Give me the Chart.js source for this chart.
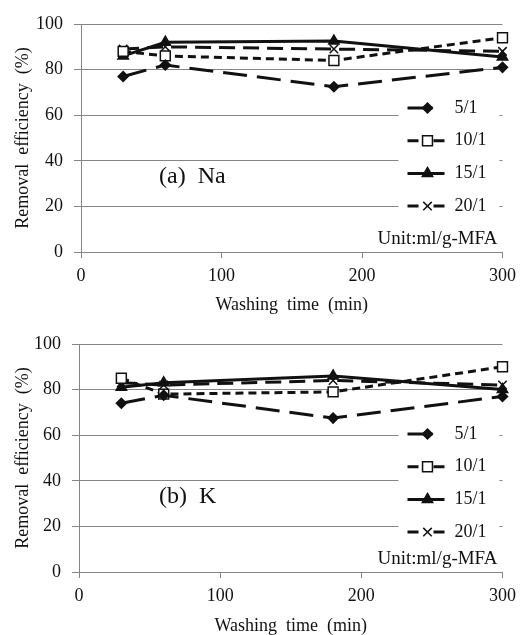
<!DOCTYPE html>
<html>
<head>
<meta charset="utf-8">
<script src="https://cdn.jsdelivr.net/npm/chart.js@4/dist/chart.umd.min.js"></script>
<style>
  body { margin: 0; background: #fff; }
  canvas { display: block; }
</style>
</head>
<body>
<canvas id="naChart" width="523" height="318"></canvas>
<canvas id="kChart" width="523" height="317"></canvas>
<script>
const washTimes = [30, 60, 180, 300];
const ratioLabels = ["5/1", "10/1", "15/1", "20/1"];
const xTicks = [0, 100, 200, 300];
const yTicks = [0, 20, 40, 60, 80, 100];

// Na removal efficiency (%)
const na51 = [77, 82, 72.5, 81];
const na101 = [88, 86, 84, 94];
const na151 = [86, 92, 92.5, 85.5];
const na201 = [89, 90, 89, 88];

// K removal efficiency (%)
const k51 = [74, 77.5, 67.5, 77];
const k101 = [85, 78, 79, 90];
const k151 = [81, 83, 86, 80];
const k201 = [83, 82, 84, 82];

const SERIF = "'Liberation Serif', 'Times New Roman', serif";
const GRID = "#858585";
const INK = "#111";

// line dash in the plot, and the short sample drawn in the legend
const seriesStyle = [
  { pointStyle: "rectRot", radius: 5, fill: INK, dash: [24, 10], key: [], keyEnd: -12 },
  { pointStyle: "rect", radius: 7, fill: "#fff", dash: [8, 5], key: [11, 15, 11], keyEnd: 0 },
  { pointStyle: "triangle", radius: 6, fill: INK, dash: [], key: [], keyEnd: 0 },
  { pointStyle: "crossRot", radius: 6, fill: INK, dash: [16, 8], key: [11, 15, 11], keyEnd: 0 },
];

function buildDatasets(seriesList) {
  return seriesList.map((values, i) => {
    const s = seriesStyle[i];
    return {
      label: ratioLabels[i],
      data: washTimes.map((t, j) => ({ x: t, y: values[j] })),
      borderColor: INK,
      borderWidth: 3,
      borderDash: s.dash,
      pointStyle: s.pointStyle,
      pointRadius: s.radius,
      pointBackgroundColor: s.fill,
      pointBorderColor: INK,
      pointBorderWidth: 1.5,
      tension: 0,
      clip: false,
    };
  });
}

// legend box, panel tag and unit note drawn inside the plot area
const panelNotes = {
  id: "panelNotes",
  afterDatasetsDraw(chart, args, opts) {
    const ctx = chart.ctx;
    const area = chart.chartArea;
    const rowY = (i) => area.top + opts.firstRow + i * 32.7;

    ctx.save();
    ctx.fillStyle = "#fff";
    ctx.fillRect(area.right - 104, rowY(0) - 16, 101, rowY(3) - rowY(0) + 32);

    chart.data.datasets.forEach((ds, i) => {
      const s = seriesStyle[i];
      const y = rowY(i);
      ctx.save();
      ctx.strokeStyle = INK;
      ctx.lineWidth = ds.borderWidth;
      ctx.setLineDash(s.key);
      ctx.beginPath();
      ctx.moveTo(area.right - 95, y);
      ctx.lineTo(area.right - 58 + s.keyEnd, y);
      ctx.stroke();
      ctx.setLineDash([]);
      ctx.fillStyle = ds.pointBackgroundColor;
      ctx.strokeStyle = INK;
      ctx.lineWidth = ds.pointBorderWidth;
      Chart.helpers.drawPoint(ctx, {
        pointStyle: ds.pointStyle,
        radius: ds.pointRadius,
        borderWidth: ds.pointBorderWidth,
        rotation: 0,
      }, area.right - 75, y);
      ctx.restore();

      ctx.fillStyle = INK;
      ctx.font = "18px " + SERIF;
      ctx.textAlign = "left";
      ctx.textBaseline = "middle";
      ctx.fillText(ds.label, area.right - 48, y);
    });

    ctx.fillStyle = INK;
    ctx.textBaseline = "middle";
    ctx.font = "24px " + SERIF;
    ctx.textAlign = "left";
    ctx.fillText(opts.tag, 159, area.bottom - 75);

    ctx.font = "19px " + SERIF;
    ctx.textAlign = "right";
    ctx.fillText("Unit:ml/g-MFA", area.right - 5, area.bottom - 13);
    ctx.restore();
  },
};

function makePanel(canvasId, seriesList, tag, frame) {
  const ctx = document.getElementById(canvasId).getContext("2d");
  return new Chart(ctx, {
    type: "line",
    data: { datasets: buildDatasets(seriesList) },
    plugins: [panelNotes],
    options: {
      responsive: false,
      animation: false,
      layout: { padding: { top: frame.top, right: frame.right, left: 0, bottom: 0 } },
      plugins: {
        legend: { display: false },
        tooltip: { enabled: false },
        panelNotes: { tag: tag, firstRow: frame.firstRow },
      },
      scales: {
        x: {
          type: "linear",
          min: 0,
          max: 300,
          afterBuildTicks: (scale) => {
            scale.ticks = xTicks.map((v) => ({ value: v }));
          },
          afterFit: (scale) => {
            scale.height = frame.xHeight;
          },
          grid: { drawOnChartArea: false, color: GRID, tickLength: 6, lineWidth: 1 },
          border: { color: GRID, width: 1 },
          ticks: { color: INK, font: { family: SERIF, size: 18 }, padding: 7, maxRotation: 0 },
          title: {
            display: true,
            text: "Washing  time  (min)",
            color: INK,
            font: { family: SERIF, size: 18, lineHeight: 1 },
            padding: { top: 0, bottom: frame.titlePad },
          },
        },
        y: {
          min: 0,
          max: 100,
          afterBuildTicks: (scale) => {
            scale.ticks = yTicks.map((v) => ({ value: v }));
          },
          afterFit: (scale) => {
            scale.width = frame.left;
          },
          grid: { color: GRID, tickLength: 7, lineWidth: 1 },
          border: { color: GRID, width: 1 },
          ticks: { color: INK, font: { family: SERIF, size: 18 }, padding: 11 },
          title: {
            display: true,
            text: "Removal  efficiency  (%)",
            color: INK,
            font: { family: SERIF, size: 18, lineHeight: 1 },
            padding: { top: 14, bottom: 0 },
          },
        },
      },
    },
  });
}

makePanel("naChart", [na51, na101, na151, na201], "(a)  Na",
  { top: 24, right: 16, left: 81, xHeight: 66, titlePad: 4, firstRow: 84 });
makePanel("kChart", [k51, k101, k151, k201], "(b)  K",
  { top: 26, right: 17, left: 79, xHeight: 63, titlePad: 0, firstRow: 90 });
</script>
</body>
</html>
